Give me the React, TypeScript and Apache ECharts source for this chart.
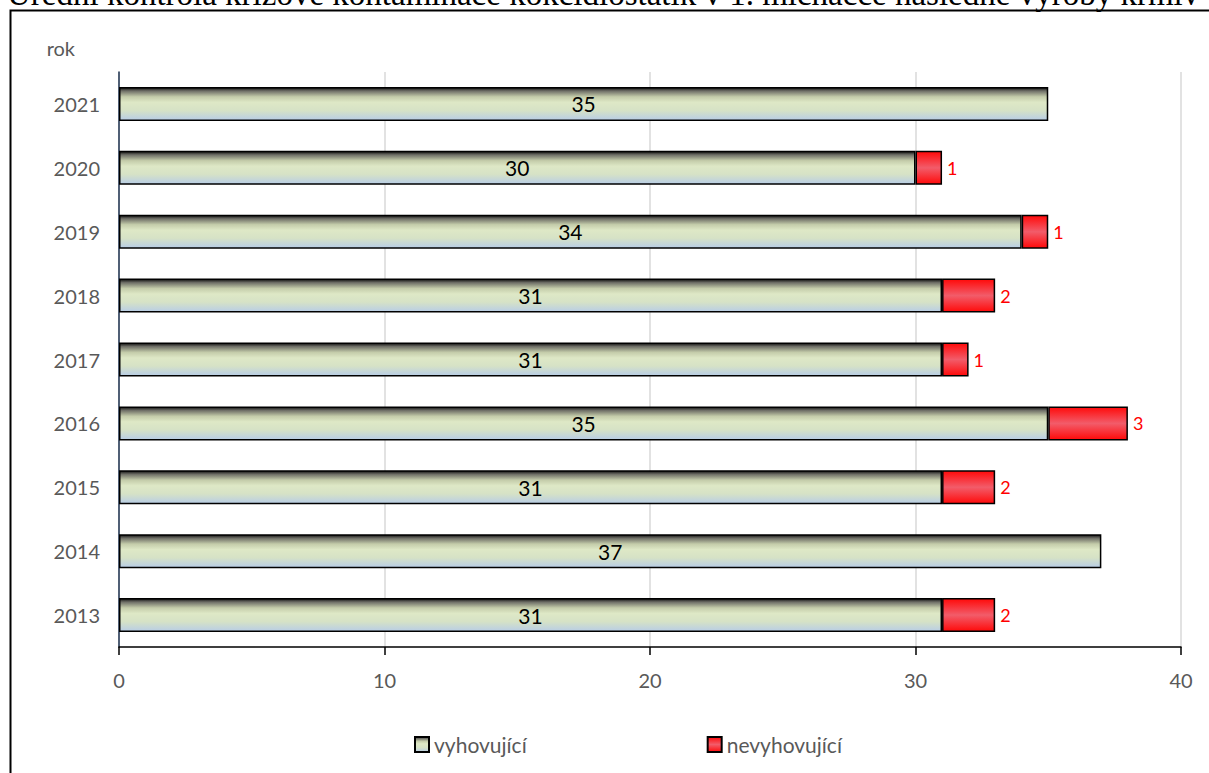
import React, { useEffect, useRef } from "react";
import * as echarts from "echarts";

const years = ["2013", "2014", "2015", "2016", "2017", "2018", "2019", "2020", "2021"];
const vyhovujici = [31, 37, 31, 35, 31, 31, 34, 30, 35];
const nevyhovujici = [2, 0, 2, 3, 1, 2, 1, 1, 0];
const xTicks = [0, 10, 20, 30, 40];
const seriesNames = ["vyhovující", "nevyhovující"];
const titleText = "Úřední kontrola křížové kontaminace kokcidiostatik v 1. míchačce následné výroby krmiv";

const FONT = "Lato, 'Open Sans', sans-serif";

export default function App() {
  const ref = useRef<HTMLDivElement>(null);
  useEffect(() => {
    if (!ref.current) return;
    const chart = echarts.init(ref.current, null, { renderer: "svg" });
    const greenGrad = new echarts.graphic.LinearGradient(0, 0, 0, 1, [
      { offset: 0, color: "#111111" },
      { offset: 0.1, color: "#6e6e66" },
      { offset: 0.28, color: "#c4ccaa" },
      { offset: 0.45, color: "#dee8c6" },
      { offset: 0.7, color: "#d6e2c6" },
      { offset: 1, color: "#b8cde6" },
    ]);
    const redGrad = new echarts.graphic.LinearGradient(0, 0, 0, 1, [
      { offset: 0, color: "#ff0a0a" },
      { offset: 0.5, color: "#f25c6a" },
      { offset: 1, color: "#ff0a0a" },
    ]);
    chart.setOption({
      animation: false,
      backgroundColor: "#ffffff",
      graphic: [
        {
          type: "text",
          x: 7,
          y: 10,
          z: 1,
          style: {
            text: titleText,
            font: "33px 'Liberation Serif', serif",
            fill: "#000000",
            verticalAlign: "bottom",
            align: "left",
          },
          silent: true,
        },
        {
          type: "rect",
          z: 2,
          shape: { x: 10.5, y: 10.5, width: 1240, height: 800 },
          style: { fill: "none", stroke: "#000000", lineWidth: 2 },
          silent: true,
        },
      ],
      legend: {
        top: 729,
        left: 409,
        itemGap: 180,
        itemWidth: 14,
        itemHeight: 15,
        icon: "rect",
        textStyle: { fontFamily: FONT, fontSize: 21, color: "#595959" },
        data: seriesNames,
      },
      grid: { left: 119, right: 28, top: 72, bottom: 126, containLabel: false },
      xAxis: {
        type: "value",
        min: xTicks[0],
        max: xTicks[xTicks.length - 1],
        interval: 10,
        axisLine: { show: true, lineStyle: { color: "#000000", width: 1.5 } },
        axisTick: { show: true, length: 8, lineStyle: { color: "#000000", width: 1.5 } },
        axisLabel: { fontFamily: FONT, fontSize: 20, color: "#595959", margin: 23 },
        splitLine: { show: true, lineStyle: { color: "#d9d9d9", width: 1.5 } },
      },
      yAxis: {
        type: "category",
        data: years,
        name: "rok",
        nameGap: 14,
        nameTextStyle: { fontFamily: FONT, fontSize: 20, color: "#595959", align: "right", padding: [0, 44, 0, 0] },
        axisLine: { show: true, lineStyle: { color: "#1f3350", width: 1.5 } },
        axisTick: { show: false },
        axisLabel: { fontFamily: FONT, fontSize: 20, color: "#595959", margin: 19 },
        splitLine: { show: false },
      },
      series: [
        {
          name: seriesNames[0],
          type: "bar",
          stack: "total",
          barWidth: 34,
          data: vyhovujici,
          itemStyle: { color: greenGrad, borderColor: "#000000", borderWidth: 1.5 },
          label: {
            show: true,
            position: "inside",
            fontFamily: FONT,
            fontSize: 21,
            color: "#000000",
          },
        },
        {
          name: seriesNames[1],
          type: "bar",
          stack: "total",
          barWidth: 34,
          data: nevyhovujici.map((v) => (v === 0 ? "-" : v)),
          itemStyle: { color: redGrad, borderColor: "#000000", borderWidth: 1.5 },
          label: {
            show: true,
            position: "right",
            distance: 5,
            fontFamily: FONT,
            fontSize: 18,
            color: "#ff0000",
          },
        },
      ],
    });
    return () => chart.dispose();
  }, []);
  return (
    <div
      ref={ref}
      style={{ position: "fixed", left: 0, top: 0, width: 1209, height: 773 }}
    />
  );
}
